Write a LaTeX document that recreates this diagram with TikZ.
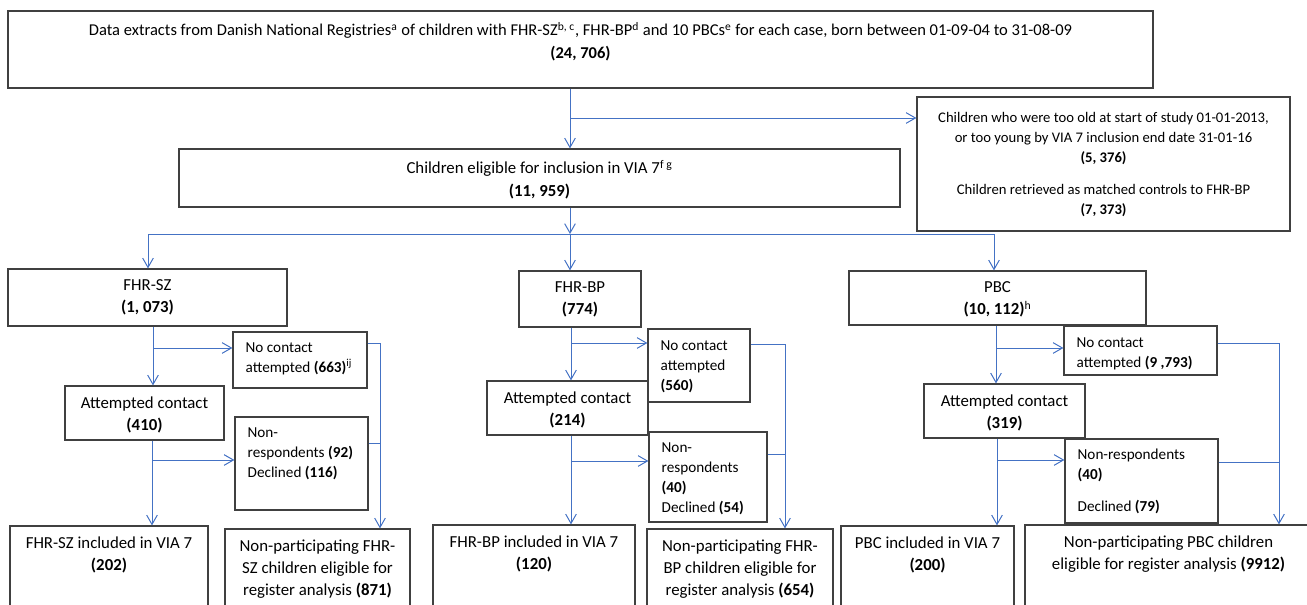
\documentclass[tikz,border=0pt]{standalone}
\usepackage{fontspec}
\setmainfont{Carlito}
\usepackage{xcolor}
\usetikzlibrary{arrows.meta, positioning, fit, calc}
\definecolor{linkblue}{RGB}{68, 114, 196}
\definecolor{boxgray}{RGB}{64, 64, 64}
\tikzstyle{box} = [rectangle, draw=boxgray, line width=0.9pt, inner sep=0pt]
\tikzstyle{txt} = [inner sep=0pt, align=center, font=\fontsize{12.6pt}{16.5pt}\selectfont]
\tikzstyle{ltxt} = [inner sep=0pt, align=left, anchor=north west, font=\fontsize{11.4pt}{15pt}\selectfont]
\tikzstyle{link} = [draw=linkblue, line width=0.75pt]
\tikzstyle{arrow} = [link, -{Straight Barb[length=7pt, width=8pt]}]

\begin{document}
\begin{tikzpicture}[x=0.75pt, y=-0.75pt]
\useasboundingbox (0,0) rectangle (1307,604);
\clip (0,0) rectangle (1307,604);

% Registry extract
\node (top) [box, fit={(8,11) (1153,88)}] {};
\node (elig) [box, fit={(179,149) (900,207)}] {};
\node (excl) [box, fit={(917,97) (1290,231)}] {};

% Groups
\node (sz) [box, fit={(8,269) (287,326)}] {};
\node (bp) [box, fit={(519,271) (641,327)}] {};
\node (pbc) [box, fit={(849,271) (1146,325)}] {};

% FHR-SZ
\node (sznc) [box, fit={(233,332) (367,388)}] {};
\node (szat) [box, fit={(65,386) (224,440)}] {};
\node (sznr) [box, fit={(235,417) (368,510)}] {};
\node (szin) [box, fit={(10,526) (208,620)}] {};
\node (sznp) [box, fit={(225,529) (410,620)}] {};

% FHR-BP
\node (bpnc) [box, fit={(648,329) (750,402)}] {};
\node (bpat) [box, fit={(487,381) (648,435)}] {};
\node (bpnr) [box, fit={(649,432) (767,522)}] {};
\node (bpin) [box, fit={(433,525) (635,620)}] {};
\node (bpnp) [box, fit={(647,529) (833,620)}] {};

% PBC
\node (pbcnc) [box, fit={(1064,326) (1217,375)}] {};
\node (pbcat) [box, fit={(924,384) (1085,438)}] {};
\node (pbcnr) [box, fit={(1065,439) (1218,523)}] {};
\node (pbcin) [box, fit={(841,526) (1014,620)}] {};
\node (pbcnp) [box, fit={(1025,525) (1312,620)}] {};

% Texts
\node (top-t) [txt, below=8.5pt of top.north, font=\fontsize{12.4pt}{16.5pt}\selectfont] {Data extracts from Danish National Registries\textsuperscript{a} of children with FHR-SZ\textsuperscript{b, c}, FHR-BP\textsuperscript{d} and 10 PBCs\textsuperscript{e} for each case, born between 01-09-04 to 31-08-09\\[0.5pt]\textbf{(24, 706)}};
\node (elig-t) [txt, below=8.5pt of elig.north] {Children eligible for inclusion in VIA 7\textsuperscript{f g}\\[0.5pt]\textbf{(11, 959)}};
\node (excl-t) [txt, below=11.5pt of excl.north, font=\fontsize{11pt}{15pt}\selectfont] {Children who were too old at start of study 01-01-2013,\\or too young by VIA 7 inclusion end date 31-01-16\\\textbf{(5, 376)}\\[9pt]Children retrieved as matched controls to FHR-BP\\\textbf{(7, 373)}};

\node (sz-t) [txt, below=8.5pt of sz.north] {FHR-SZ\\\textbf{(1, 073)}};
\node (bp-t) [txt, below=8.5pt of bp.north] {FHR-BP\\\textbf{(774)}};
\node (pbc-t) [txt, below=8.5pt of pbc.north] {PBC\\\textbf{(10, 112)}\textsuperscript{h}};

\node (sznc-t) [ltxt, below right=8pt and 9.75pt of sznc.north west] {No contact\\attempted \textbf{(663)}\textsuperscript{ij}};
\node (szat-t) [txt, below=8.5pt of szat.north] {Attempted contact\\\textbf{(410)}};
\node (sznr-t) [ltxt, below right=8pt and 9.75pt of sznr.north west] {Non-\\respondents \textbf{(92)}\\Declined \textbf{(116)}};
\node (szin-t) [txt, below=8.5pt of szin.north] {FHR-SZ included in VIA 7\\\textbf{(202)}};
\node (sznp-t) [txt, below=8.5pt of sznp.north] {Non-participating FHR-\\SZ children eligible for\\register analysis \textbf{(871)}};

\node (bpnc-t) [ltxt, below right=9pt and 9.75pt of bpnc.north west] {No contact\\attempted\\\textbf{(560)}};
\node (bpat-t) [txt, below=8.5pt of bpat.north] {Attempted contact\\\textbf{(214)}};
\node (bpnr-t) [ltxt, below right=8.5pt and 9.75pt of bpnr.north west] {Non-\\respondents\\\textbf{(40)}\\Declined \textbf{(54)}};
\node (bpin-t) [txt, below=8.5pt of bpin.north] {FHR-BP included in VIA 7\\\textbf{(120)}};
\node (bpnp-t) [txt, below=8.5pt of bpnp.north] {Non-participating FHR-\\BP children eligible for\\register analysis \textbf{(654)}};

\node (pbcnc-t) [ltxt, below right=9pt and 9.75pt of pbcnc.north west] {No contact\\attempted \textbf{(9 ,793)}};
\node (pbcat-t) [txt, below=8.5pt of pbcat.north] {Attempted contact\\\textbf{(319)}};
\node (pbcnr-t) [ltxt, below right=8pt and 9.75pt of pbcnr.north west] {Non-respondents\\\textbf{(40)}\\[9pt]Declined \textbf{(79)}};
\node (pbcin-t) [txt, below=8.5pt of pbcin.north] {PBC included in VIA 7\\\textbf{(200)}};
\node (pbcnp-t) [txt, below=8.5pt of pbcnp.north] {Non-participating PBC children\\eligible for register analysis \textbf{(9912)}};

% Arrows
\coordinate (m0) at (570,118);
\coordinate (m1) at (570,234);
\coordinate (c1) at (148,234);
\coordinate (c3) at (994,234);
\draw [arrow] (m0 |- top.south) -- (m0 |- elig.north);
\draw [arrow] (m0) -- (m0 -| excl.west);
\draw [arrow] (m1 |- elig.south) -- (m1);
\draw [link] (c1) -- (c3);
\draw [arrow] (c1) -- (c1 |- sz.north);
\draw [arrow] (m1) -- (m1 |- bp.north);
\draw [arrow] (c3) -- (c3 |- pbc.north);

% FHR-SZ branches
\coordinate (sz-a) at (153,348);
\coordinate (sz-b) at (152,460);
\coordinate (sz-c) at (380,343);
\coordinate (sz-d) at (380,443);
\draw [arrow] (sz-a |- sz.south) -- (sz-a |- szat.north);
\draw [arrow] (sz-a) -- (sz-a -| sznc.west);
\draw [arrow] (sz-b |- szat.south) -- (sz-b |- szin.north);
\draw [arrow] (sz-b) -- (sz-b -| sznr.west);
\draw [arrow] (sz-c -| sznc.east) -- (sz-c) -- (sz-c |- sznp.north);
\draw [link] (sz-d -| sznr.east) -- (sz-d);

% FHR-BP branches
\coordinate (bp-a) at (571,343);
\coordinate (bp-b) at (571,461);
\coordinate (bp-c) at (785,344);
\coordinate (bp-d) at (785,454);
\draw [arrow] (bp-a |- bp.south) -- (bp-a |- bpat.north);
\draw [arrow] (bp-a) -- (bp-a -| bpnc.west);
\draw [arrow] (bp-b |- bpat.south) -- (bp-b |- bpin.north);
\draw [arrow] (bp-b) -- (bp-b -| bpnr.west);
\draw [arrow] (bp-c -| bpnc.east) -- (bp-c) -- (bp-c |- bpnp.north);
\draw [link] (bp-d -| bpnr.east) -- (bp-d);

% PBC branches
\coordinate (pbc-a) at (996,348);
\coordinate (pbc-b) at (997,460);
\coordinate (pbc-c) at (1279,343);
\coordinate (pbc-d) at (1279,462);
\draw [arrow] (pbc-a |- pbc.south) -- (pbc-a |- pbcat.north);
\draw [arrow] (pbc-a) -- (pbc-a -| pbcnc.west);
\draw [arrow] (pbc-b |- pbcat.south) -- (pbc-b |- pbcin.north);
\draw [arrow] (pbc-b) -- (pbc-b -| pbcnr.west);
\draw [arrow] (pbc-c -| pbcnc.east) -- (pbc-c) -- (pbc-c |- pbcnp.north);
\draw [link] (pbc-d -| pbcnr.east) -- (pbc-d);

\end{tikzpicture}
\end{document}
